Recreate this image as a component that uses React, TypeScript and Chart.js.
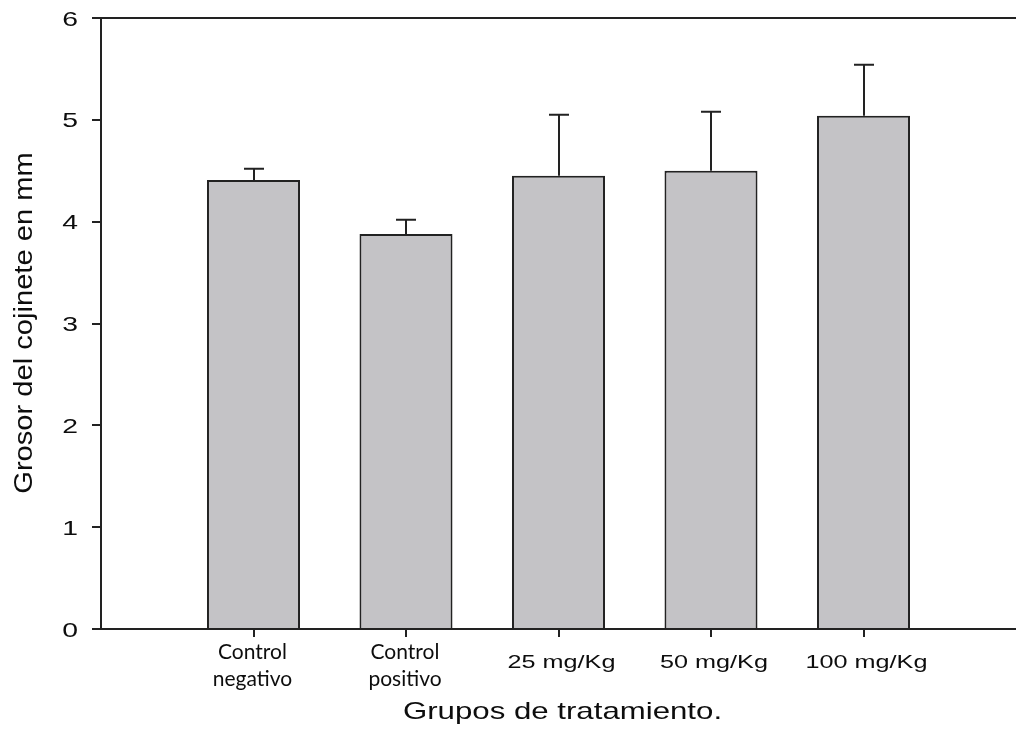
import { useEffect, useRef } from 'react';
import { Chart, registerables } from 'chart.js';

Chart.register(...registerables);

// ---- data ----
const CATEGORIES: (string | string[])[] = [
  ['Control', 'negativo'],
  ['Control', 'positivo'],
  '25 mg/Kg',
  '50 mg/Kg',
  '100 mg/Kg',
];
const MEANS = [4.41, 3.88, 4.45, 4.5, 5.04];
const ERRORS = [0.11, 0.14, 0.6, 0.58, 0.5];
const Y_TICKS = [0, 1, 2, 3, 4, 5, 6];
const X_TITLE = 'Grupos de tratamiento.';
const Y_TITLE = 'Grosor del cojinete en mm';

const INK = '#222222';
const TEXT = '#0d0d0d';
const BAR_FILL = '#c4c3c6';
const ARIAL = '"Liberation Sans", Arial, sans-serif';

const errorBarPlugin = {
  id: 'errorBars',
  afterDatasetsDraw(chart: any) {
    const { ctx, scales } = chart;
    const meta = chart.getDatasetMeta(0);
    const errs: (number | null)[] = chart.data.datasets[0].errors;
    ctx.save();
    ctx.strokeStyle = INK;
    ctx.lineWidth = 2;
    meta.data.forEach((el: any, i: number) => {
      const v = chart.data.datasets[0].data[i];
      const e = errs[i];
      if (v == null || e == null) return;
      const top = scales.y.getPixelForValue(v + e);
      const x = Math.round(el.x);
      ctx.beginPath();
      ctx.moveTo(x, el.y);
      ctx.lineTo(x, top);
      ctx.moveTo(x - 10, top);
      ctx.lineTo(x + 10, top);
      ctx.stroke();
    });
    ctx.restore();
  },
};

const textPlugin = {
  id: 'stretchedText',
  afterDraw(chart: any) {
    const { ctx, chartArea, scales } = chart;
    const xs = scales.x;
    const ys = scales.y;
    ctx.save();
    ctx.fillStyle = TEXT;
    ctx.textBaseline = 'alphabetic';

    // y tick labels
    ctx.font = `21px ${ARIAL}`;
    ctx.textAlign = 'right';
    ys.ticks.forEach((t: any) => {
      const py = ys.getPixelForValue(t.value);
      ctx.save();
      ctx.translate(chartArea.left - 23, py + 7.5);
      ctx.scale(1.35, 1);
      ctx.fillText(String(t.value), 0, 0);
      ctx.restore();
    });

    // x tick labels
    const labels: any[] = chart.data.labels;
    labels.forEach((lab, i) => {
      if (!lab) return;
      const px = xs.getPixelForTick(i);
      if (Array.isArray(lab)) {
        ctx.font = '21px Lato, "Noto Sans", sans-serif';
        ctx.textAlign = 'center';
        lab.forEach((line: string, j: number) => {
          ctx.fillText(line, px - 1, chartArea.bottom + 30 + j * 27);
        });
      } else {
        ctx.font = `18px ${ARIAL}`;
        ctx.textAlign = 'center';
        ctx.save();
        ctx.translate(px + 3, chartArea.bottom + 39);
        ctx.scale(1.4, 1);
        ctx.fillText(lab, 0, 0);
        ctx.restore();
      }
    });

    // x title
    ctx.font = `24px ${ARIAL}`;
    ctx.textAlign = 'center';
    ctx.save();
    ctx.translate((chartArea.left + chartArea.right) / 2 + 4, chartArea.bottom + 90);
    ctx.scale(1.3, 1);
    ctx.fillText(X_TITLE, 0, 0);
    ctx.restore();

    // y title
    ctx.font = `26px ${ARIAL}`;
    ctx.save();
    ctx.translate(31.5, 323);
    ctx.rotate(-Math.PI / 2);
    ctx.scale(1.12, 1);
    ctx.textAlign = 'center';
    ctx.fillText(Y_TITLE, 0, 0);
    ctx.restore();

    ctx.restore();
  },
};

export default function App() {
  const ref = useRef<HTMLCanvasElement | null>(null);

  useEffect(() => {
    if (!ref.current) return;
    const labels = ['', ...CATEGORIES, ''];
    const data = [null, ...MEANS, null];
    const errors = [null, ...ERRORS, null];
    const chart = new Chart(ref.current, {
      type: 'bar',
      data: {
        labels,
        datasets: [
          {
            data,
            errors,
            backgroundColor: BAR_FILL,
            borderColor: INK,
            borderWidth: 2,
            borderSkipped: 'start',
            barPercentage: 0.61,
            categoryPercentage: 1,
          } as any,
        ],
      },
      options: {
        responsive: false,
        animation: false,
        layout: { padding: { left: 92, right: 0, top: 18, bottom: 0 } },
        plugins: {
          legend: { display: false },
          tooltip: { enabled: false },
        },
        scales: {
          x: {
            type: 'category',
            offset: false,
            grid: {
              offset: false,
              drawOnChartArea: false,
              drawTicks: true,
              tickLength: 8,
              lineWidth: 2,
              tickColor: (c: any) =>
                c.index === 0 || c.index === labels.length - 1 ? 'rgba(0,0,0,0)' : INK,
            },
            border: { display: true, color: INK, width: 2 },
            ticks: { display: false },
            afterFit: (scale: any) => {
              scale.height = 101;
            },
          },
          y: {
            min: 0,
            max: 6,
            afterBuildTicks: (scale: any) => {
              scale.ticks = Y_TICKS.map((v) => ({ value: v }));
            },
            grid: {
              drawOnChartArea: true,
              drawTicks: true,
              tickLength: 9,
              lineWidth: 2,
              color: (c: any) =>
                c.tick && c.tick.value === Y_TICKS[Y_TICKS.length - 1] ? INK : 'rgba(0,0,0,0)',
              tickColor: INK,
            },
            border: { display: true, color: INK, width: 2 },
            ticks: { display: false },
            afterFit: (scale: any) => {
              scale.width = 9;
            },
          },
        },
      } as any,
      plugins: [errorBarPlugin, textPlugin],
    });
    return () => chart.destroy();
  }, []);

  return (
    <div style={{ position: 'absolute', left: 0, top: 0, width: 1016, height: 730, background: '#fff' }}>
      <canvas ref={ref} width={1016} height={730} style={{ display: 'block' }} />
    </div>
  );
}
